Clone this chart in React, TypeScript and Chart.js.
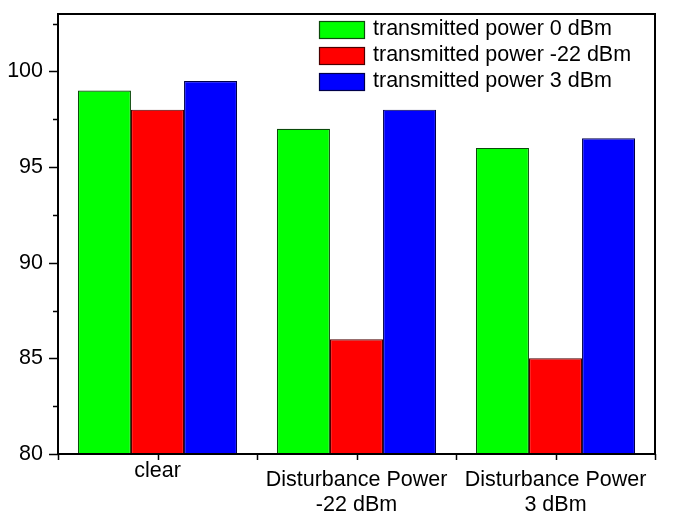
import React, { useEffect, useRef } from "react";
import { Chart, registerables } from "chart.js";

Chart.register(...registerables);

const categories: string[][] = [["clear"], ["Disturbance Power", "-22 dBm"], ["Disturbance Power", "3 dBm"]];
const seriesLabels = ["transmitted power 0 dBm", "transmitted power -22 dBm", "transmitted power 3 dBm"];
const power0dBm = [99, 97, 96];
const powerMinus22dBm = [98, 86, 85];
const power3dBm = [99.5, 98, 96.5];
const yMajorTicks = [80, 85, 90, 95, 100];
const yMinorTicks = [82.5, 87.5, 92.5, 97.5, 102.5];
const yMin = 80;
const yMax = 103;

const FONT = "'Liberation Sans', Arial, sans-serif";
const fills = ["#00ff00", "#ff0000", "#0000ff"];
const borders = ["#0b4a0b", "#4a0000", "#00004a"];

const framePlugin = {
  id: "frameAndTicks",
  afterDraw(chart: any) {
    const { ctx, chartArea } = chart;
    const { left, right, top, bottom } = chartArea;
    const y = chart.scales.y;
    const x = chart.scales.x;
    ctx.save();
    ctx.strokeStyle = "#000";
    ctx.lineWidth = 2;
    ctx.strokeRect(left, top, right - left, bottom - top);
    ctx.lineWidth = 1.5;
    ctx.beginPath();
    yMajorTicks.forEach((v) => {
      const p = Math.round(y.getPixelForValue(v)) + 0.5;
      ctx.moveTo(left - 9, p);
      ctx.lineTo(left, p);
    });
    yMinorTicks.forEach((v) => {
      const p = Math.round(y.getPixelForValue(v)) + 0.5;
      ctx.moveTo(left - 5, p);
      ctx.lineTo(left, p);
    });
    for (let i = 0; i <= categories.length * 2; i++) {
      const p = Math.round(x.getPixelForValue(i / 2 - 0.5)) + 0.5;
      ctx.moveTo(p, bottom);
      ctx.lineTo(p, bottom + 6);
    }
    ctx.stroke();

    // legend
    const sx = 319, sw = 46, sh = 18, tx = 373;
    const rowsY = [21, 47, 73];
    ctx.font = `21.5px ${FONT}`;
    ctx.textBaseline = "middle";
    ctx.textAlign = "left";
    chart.data.datasets.forEach((ds: any, i: number) => {
      const ry = rowsY[i];
      ctx.fillStyle = ds.backgroundColor;
      ctx.fillRect(sx, ry, sw, sh);
      ctx.strokeStyle = ds.borderColor;
      ctx.lineWidth = 1.2;
      ctx.strokeRect(sx + 0.5, ry + 0.5, sw - 1, sh - 1);
      ctx.fillStyle = "#000";
      ctx.fillText(ds.label, tx, ry + sh / 2 - 1);
    });
    ctx.restore();
  },
};

export default function App() {
  const ref = useRef<HTMLCanvasElement>(null);
  useEffect(() => {
    document.body.style.margin = "0";
    const canvas = ref.current!;
    const chart = new Chart(canvas, {
      type: "bar",
      data: {
        labels: categories,
        datasets: [power0dBm, powerMinus22dBm, power3dBm].map((d, i) => ({
          label: seriesLabels[i],
          data: d,
          backgroundColor: fills[i],
          borderColor: borders[i],
          borderWidth: 1.2,
          borderSkipped: false,
          categoryPercentage: 0.8,
          barPercentage: 1.0,
        })),
      },
      options: {
        responsive: false,
        animation: false,
        devicePixelRatio: 1,
        layout: { padding: { top: 14, right: 22, left: 0, bottom: 0 } },
        plugins: { legend: { display: false }, tooltip: { enabled: false } },
        scales: {
          x: {
            type: "category",
            offset: true,
            grid: { display: false, drawTicks: false },
            border: { display: false },
            ticks: {
              color: "#000",
              padding: 14,
              maxRotation: 0,
              autoSkip: false,
              font: (ctx: any) => ({
                family: FONT,
                size: 21.5,
                lineHeight: ctx.index === 0 ? "5.8px" : "24.4px",
              }),
            },
            afterFit: (scale: any) => {
              scale.height = 62;
              scale.paddingLeft = 0;
              scale.paddingRight = 0;
            },
          },
          y: {
            min: yMin,
            max: yMax,
            grid: { display: false, drawTicks: false },
            border: { display: false },
            ticks: {
              color: "#000",
              padding: 15,
              font: { family: FONT, size: 21.5 },
            },
            afterBuildTicks: (scale: any) => {
              scale.ticks = yMajorTicks.map((v) => ({ value: v }));
            },
            afterFit: (scale: any) => {
              scale.width = 58;
              scale.paddingTop = 0;
              scale.paddingBottom = 0;
            },
          },
        },
      },
      plugins: [framePlugin],
    });
    return () => chart.destroy();
  }, []);
  return (
    <div style={{ width: 677, height: 516 }}>
      <canvas ref={ref} width={677} height={516} style={{ display: "block" }} />
    </div>
  );
}
